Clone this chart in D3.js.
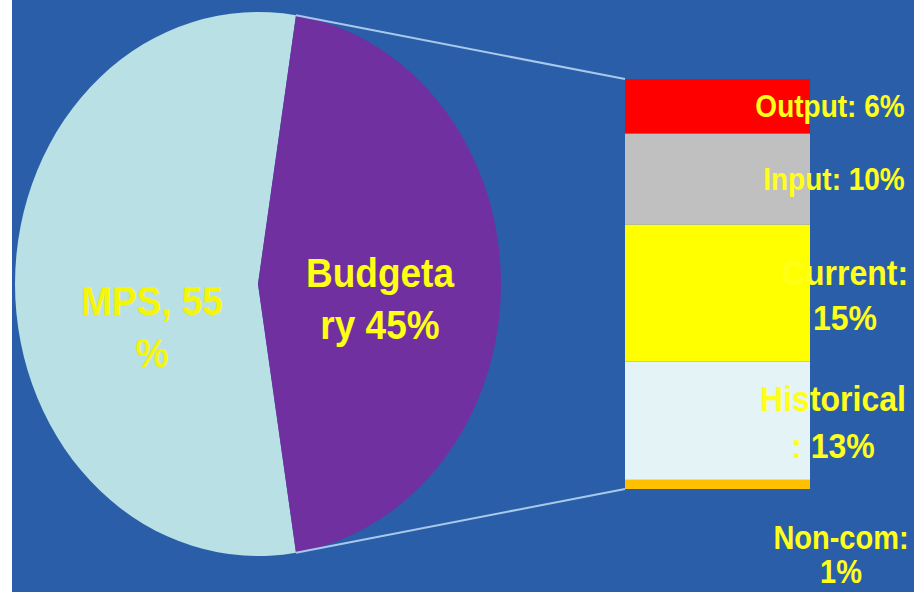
<!DOCTYPE html>
<html>
<head>
<meta charset="utf-8">
<script src="https://cdn.jsdelivr.net/npm/d3@7/dist/d3.min.js"></script>
<style>
  html, body { margin: 0; padding: 0; background: #ffffff; }
  svg { display: block; }
  text { font-family: "Liberation Sans", Arial, sans-serif; font-weight: bold; }
</style>
</head>
<body>
<svg id="chart" width="914" height="592"></svg>
<script>
// ---- data ----
const pieCategories = ["MPS", "Budgetary"];
const pieValues = [55, 45];
const pieLabelLines = [["MPS, 55", "%"], ["Budgeta", "ry 45%"]];

const barCategories = ["Output", "Input", "Current", "Historical", "Non-com"];
const barValues = [6, 10, 15, 13, 1];
const barLabelLines = [["Output: 6%"], ["Input: 10%"], ["Current:", "15%"], ["Historical", ": 13%"], ["Non-com:", "1%"]];

// ---- style / layout ----
const pieColors = ["#b8e0e5", "#7030a0"];
const barColors = ["#ff0000", "#c0c0c0", "#ffff00", "#e3f3f6", "#ffc000"];
const labelColor = "#ffff1a";
const bgColor = "#2b5ea8";
const W = 914, H = 592;
const stretchY = 1.12;

const svg = d3.select("#chart");
svg.append("rect").attr("x", 0).attr("y", 0).attr("width", W).attr("height", H).attr("fill", "#ffffff");
svg.append("rect").attr("x", 12).attr("y", 0).attr("width", W - 12).attr("height", H).attr("fill", bgColor);

// ---- pie (elliptical, stretched) ----
const cx = 258, cy = 284, rx = 243, ry = 272;
const r = 100;
const total = d3.sum(pieValues);
const budgetFrac = pieValues[1] / total;
// Budgetary slice centred on the right (3 o'clock)
const startA = Math.PI / 2 - budgetFrac * Math.PI;
const pie = d3.pie().sort(null).value(d => d)
  .startAngle(startA - (1 - budgetFrac) * 2 * Math.PI)
  .endAngle(startA + budgetFrac * 2 * Math.PI);
const arcs = pie(pieValues);
const arc = d3.arc().innerRadius(0).outerRadius(r);
const pg = svg.append("g").attr("transform", `translate(${cx},${cy}) scale(${rx / r},${ry / r})`);
pg.selectAll("path").data(arcs).join("path")
  .attr("d", arc)
  .attr("fill", (d, i) => pieColors[i]);

// pie labels
const pieLabelPos = [{x: 152, y: 315}, {x: 380, y: 287}];
const pieLineH = 52;
pieLabelLines.forEach((lines, i) => {
  lines.forEach((ln, j) => {
    svg.append("text")
      .attr("transform", `translate(${pieLabelPos[i].x},${pieLabelPos[i].y + j * pieLineH}) scale(1,${stretchY})`)
      .attr("text-anchor", "middle")
      .attr("font-size", 37)
      .attr("fill", i === 0 ? "#f5f50a" : "#ffff14")
      .text(ln);
  });
});

// ---- stacked bar ----
const barX0 = 625, barX1 = 810;
const barTotal = d3.sum(barValues);
const y = d3.scaleLinear().domain([0, barTotal]).range([79, 489]);
const cum = d3.cumsum(barValues);
const segs = barValues.map((v, i) => ({v, i, y0: cum[i] - v, y1: cum[i]}));

// connector lines from pie slice edges to bar corners
const topPt = [cx + rx * Math.sin(arcs[1].startAngle), cy - ry * Math.cos(arcs[1].startAngle)];
const botPt = [cx + rx * Math.sin(arcs[1].endAngle), cy - ry * Math.cos(arcs[1].endAngle)];
svg.append("line").attr("x1", topPt[0]).attr("y1", topPt[1]).attr("x2", barX0).attr("y2", y(0))
  .attr("stroke", "#a8c8ec").attr("stroke-width", 2);
svg.append("line").attr("x1", botPt[0]).attr("y1", botPt[1]).attr("x2", barX0).attr("y2", y(barTotal))
  .attr("stroke", "#a8c8ec").attr("stroke-width", 2);

svg.selectAll("rect.seg").data(segs).join("rect")
  .attr("class", "seg")
  .attr("x", barX0)
  .attr("width", barX1 - barX0)
  .attr("y", d => y(d.y0))
  .attr("height", d => y(d.y1) - y(d.y0))
  .attr("fill", d => barColors[d.i]);

// bar labels
const barLabelX = [830, 834, 845, 833, 841];
const barLabelDy = [11, 10.5, -8.5, -9.5, 65];
const barLineH = [46, 46, 45, 47, 34];
const barLabelSize = [28, 28, 32, 32, 29];
segs.forEach((d, i) => {
  const mid = (y(d.y0) + y(d.y1)) / 2;
  barLabelLines[i].forEach((ln, j) => {
    svg.append("text")
      .attr("transform", `translate(${barLabelX[i]},${mid + barLabelDy[i] + j * barLineH[i]}) scale(1,${stretchY})`)
      .attr("text-anchor", "middle")
      .attr("font-size", barLabelSize[i])
      .attr("fill", labelColor)
      .text(ln);
  });
});
</script>
</body>
</html>
